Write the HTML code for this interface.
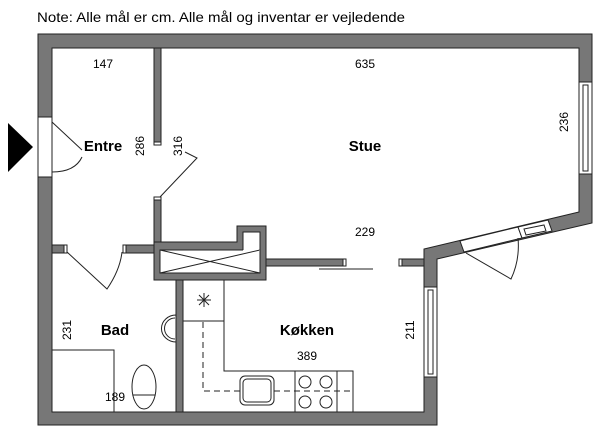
<!DOCTYPE html>
<html><head><meta charset="utf-8"><style>
body{margin:0;background:#fff}
svg{display:block}
text{font-family:"Liberation Sans",sans-serif;fill:#000}
.b{font-weight:bold;font-size:15px}
.n{font-size:12px}
</style></head><body>
<svg width="600" height="440" viewBox="0 0 600 440">
<text x="37" y="22" font-size="14" textLength="368" lengthAdjust="spacingAndGlyphs">Note: Alle mål er cm. Alle mål og inventar er vejledende</text>
<g fill="#777" stroke="#222" stroke-width="1">
<polygon points="38,34 592,34 592,223 437,259 437,425 38,425 38,177 52,177 52,412 424,412 424,249 579,212 579,48 52,48 52,117 38,117"/>
<rect x="154" y="48" width="7" height="97"/>
<rect x="154" y="197" width="7" height="45"/>
<polygon points="154,242 237,242 237,226 266,226 266,280 154,280"/>
<rect x="266" y="259" width="80" height="7"/>
<rect x="399" y="259" width="25" height="7"/>
<rect x="52" y="245" width="15" height="8"/>
<rect x="123" y="245" width="31" height="8"/>
<rect x="176" y="280" width="7" height="132"/>
</g>
<g fill="#fff" stroke="#222" stroke-width="1">
<rect x="160" y="250" width="100" height="23"/>
<rect x="243" y="232" width="17" height="19" stroke="none"/>
<polyline points="243,250 243,232 260,232 260,250" fill="none"/>
<rect x="38" y="117" width="14" height="60"/>
<rect x="579" y="82" width="13" height="92"/>
<rect x="583" y="85" width="5" height="86"/>
<rect x="424" y="287" width="13" height="90"/>
<rect x="428" y="290" width="5" height="84"/>
<polygon points="460,241 518,227 522,238 464,252"/>
<polygon points="518,227 548,220 552,231 522,238"/>
<polygon points="524,229 544,225 546,231 526,235"/>
<rect x="343" y="259" width="3" height="7"/>
<rect x="399" y="259" width="3" height="7"/>
<rect x="154" y="142" width="7" height="3"/>
<rect x="154" y="197" width="7" height="3"/>
<rect x="64" y="245" width="3" height="8"/>
<rect x="123" y="245" width="3" height="8"/>
</g>
<line x1="160" y1="250" x2="260" y2="273" stroke="#222"/>
<line x1="160" y1="273" x2="260" y2="250" stroke="#222"/>
<polygon points="8,123 33,147 8,172" fill="#000"/>
<g fill="none" stroke="#222" stroke-width="1">
<path d="M52,122 L82,150 M82,157 Q75,172 52,172"/>
<path d="M160,197 L197,158 L185,152"/>
<path d="M67,252 L107,289 Q120,270 122,252"/>
<path d="M466,253 L511,279 Q520,260 518,238"/>
<line x1="319" y1="269" x2="373" y2="269"/>
<polyline points="52,350 114,350 114,412"/>
<ellipse cx="144" cy="387" rx="12" ry="22"/>
<line x1="133" y1="395" x2="155" y2="395"/>
<path d="M176,315 A14,13 0 0 0 176,342 Z"/>
<path d="M175,318 A10,10 0 0 0 175,339"/>
<rect x="183" y="280" width="41" height="41"/>
<polyline points="224,321 224,371 353,371 353,412"/>
<line x1="295" y1="371" x2="295" y2="412"/>
<line x1="337" y1="371" x2="337" y2="412"/>
<polyline points="203,322 203,391 353,391" stroke-dasharray="6,4"/>
<rect x="240" y="376" width="34" height="29" rx="5" fill="#fff"/>
<rect x="243" y="379" width="28" height="23" rx="4"/>
<circle cx="305" cy="382" r="6"/><circle cx="326" cy="382" r="6"/>
<circle cx="305" cy="402" r="6"/><circle cx="326" cy="402" r="6"/>
<path d="M197,300 H211 M204,293 V307 M199,295 L209,305 M209,295 L199,305"/>
</g>
<text class="n" x="103" y="68" text-anchor="middle">147</text>
<text class="n" x="365" y="68" text-anchor="middle">635</text>
<text class="n" x="365" y="236" text-anchor="middle">229</text>
<text class="n" x="307" y="360" text-anchor="middle">389</text>
<text class="n" x="115" y="401" text-anchor="middle">189</text>
<text class="b" x="103" y="151" text-anchor="middle">Entre</text>
<text class="b" x="365" y="151" text-anchor="middle">Stue</text>
<text class="b" x="115" y="335" text-anchor="middle">Bad</text>
<text class="b" x="307" y="335" text-anchor="middle">Køkken</text>
<text class="n" transform="translate(144,146) rotate(-90)" text-anchor="middle">286</text>
<text class="n" transform="translate(182,146) rotate(-90)" text-anchor="middle">316</text>
<text class="n" transform="translate(568,122) rotate(-90)" text-anchor="middle">236</text>
<text class="n" transform="translate(71,330) rotate(-90)" text-anchor="middle">231</text>
<text class="n" transform="translate(414,330) rotate(-90)" text-anchor="middle">211</text>
</svg>
</body></html>
